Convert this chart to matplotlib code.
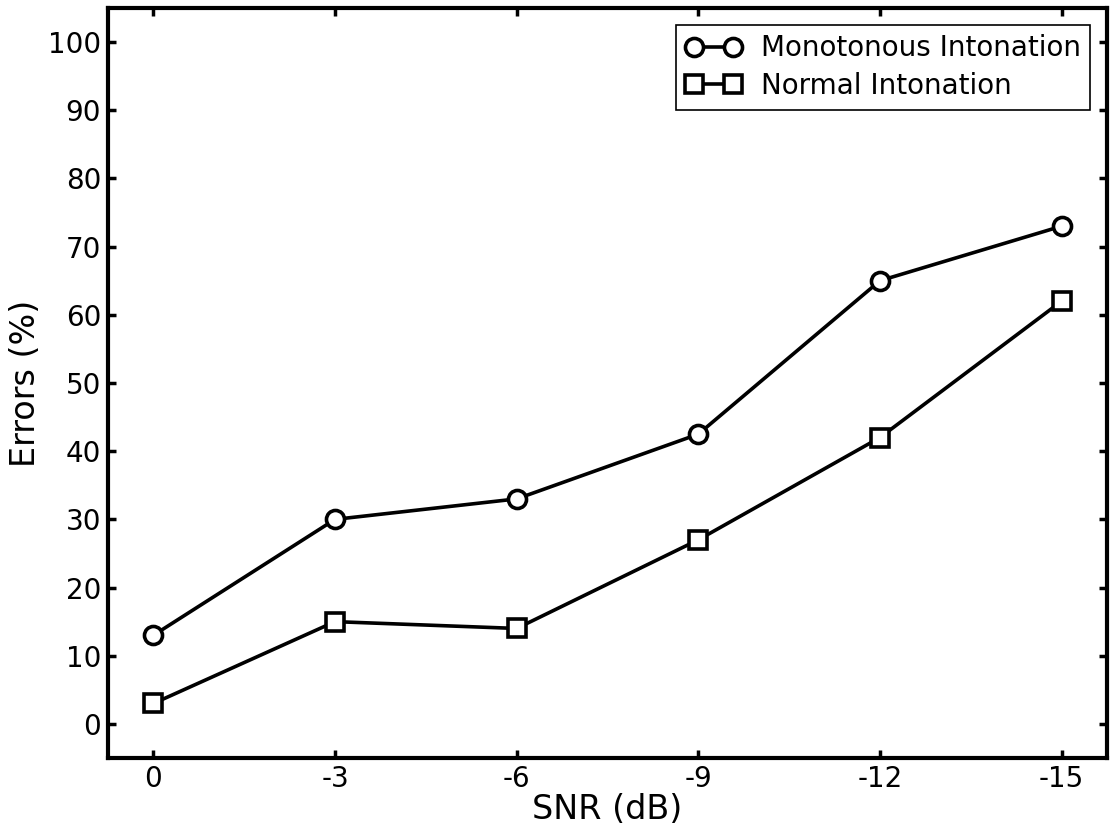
import numpy as np
import matplotlib
matplotlib.use("Agg")
import matplotlib.pyplot as plt

# data
snr_labels = ["0", "-3", "-6", "-9", "-12", "-15"]
snr_pos = [0, 3, 6, 9, 12, 15]
monotonous = [13, 30, 33, 42.5, 65, 73]
normal = [3, 15, 14, 27, 42, 62]

fig = plt.figure(figsize=(11.11, 8.32), dpi=100)
ax = fig.add_axes([108/1111, 1-758/832, (1107-108)/1111, (758-8)/832])

ax.plot(snr_pos, monotonous, "-o", color="black", lw=2.6, ms=13, mew=2.6,
        mfc="white", mec="black", label="Monotonous Intonation")
ax.plot(snr_pos, normal, "-s", color="black", lw=2.6, ms=13, mew=2.6,
        mfc="white", mec="black", label="Normal Intonation")

ax.set_xlim(-0.75, 15.75)
ax.set_ylim(-5, 105)
ax.set_xticks(snr_pos)
ax.set_xticklabels(snr_labels)
ax.set_yticks(np.arange(0, 101, 10))
ax.tick_params(direction="in", length=6, width=2.5, labelsize=20,
               top=True, right=True, pad=5)
for sp in ax.spines.values():
    sp.set_linewidth(3)

ax.set_xlabel("SNR (dB)", fontsize=24, labelpad=0)
ax.set_ylabel("Errors (%)", fontsize=24, labelpad=4)

leg = ax.legend(loc="upper right", fontsize=20, fancybox=False, framealpha=1,
                edgecolor="black", numpoints=2, handlelength=2.0,
                handletextpad=0.7, borderaxespad=0.6, borderpad=0.35,
                labelspacing=0.35)
leg.get_frame().set_linewidth(1.2)

plt.savefig("out.png", dpi=100)
